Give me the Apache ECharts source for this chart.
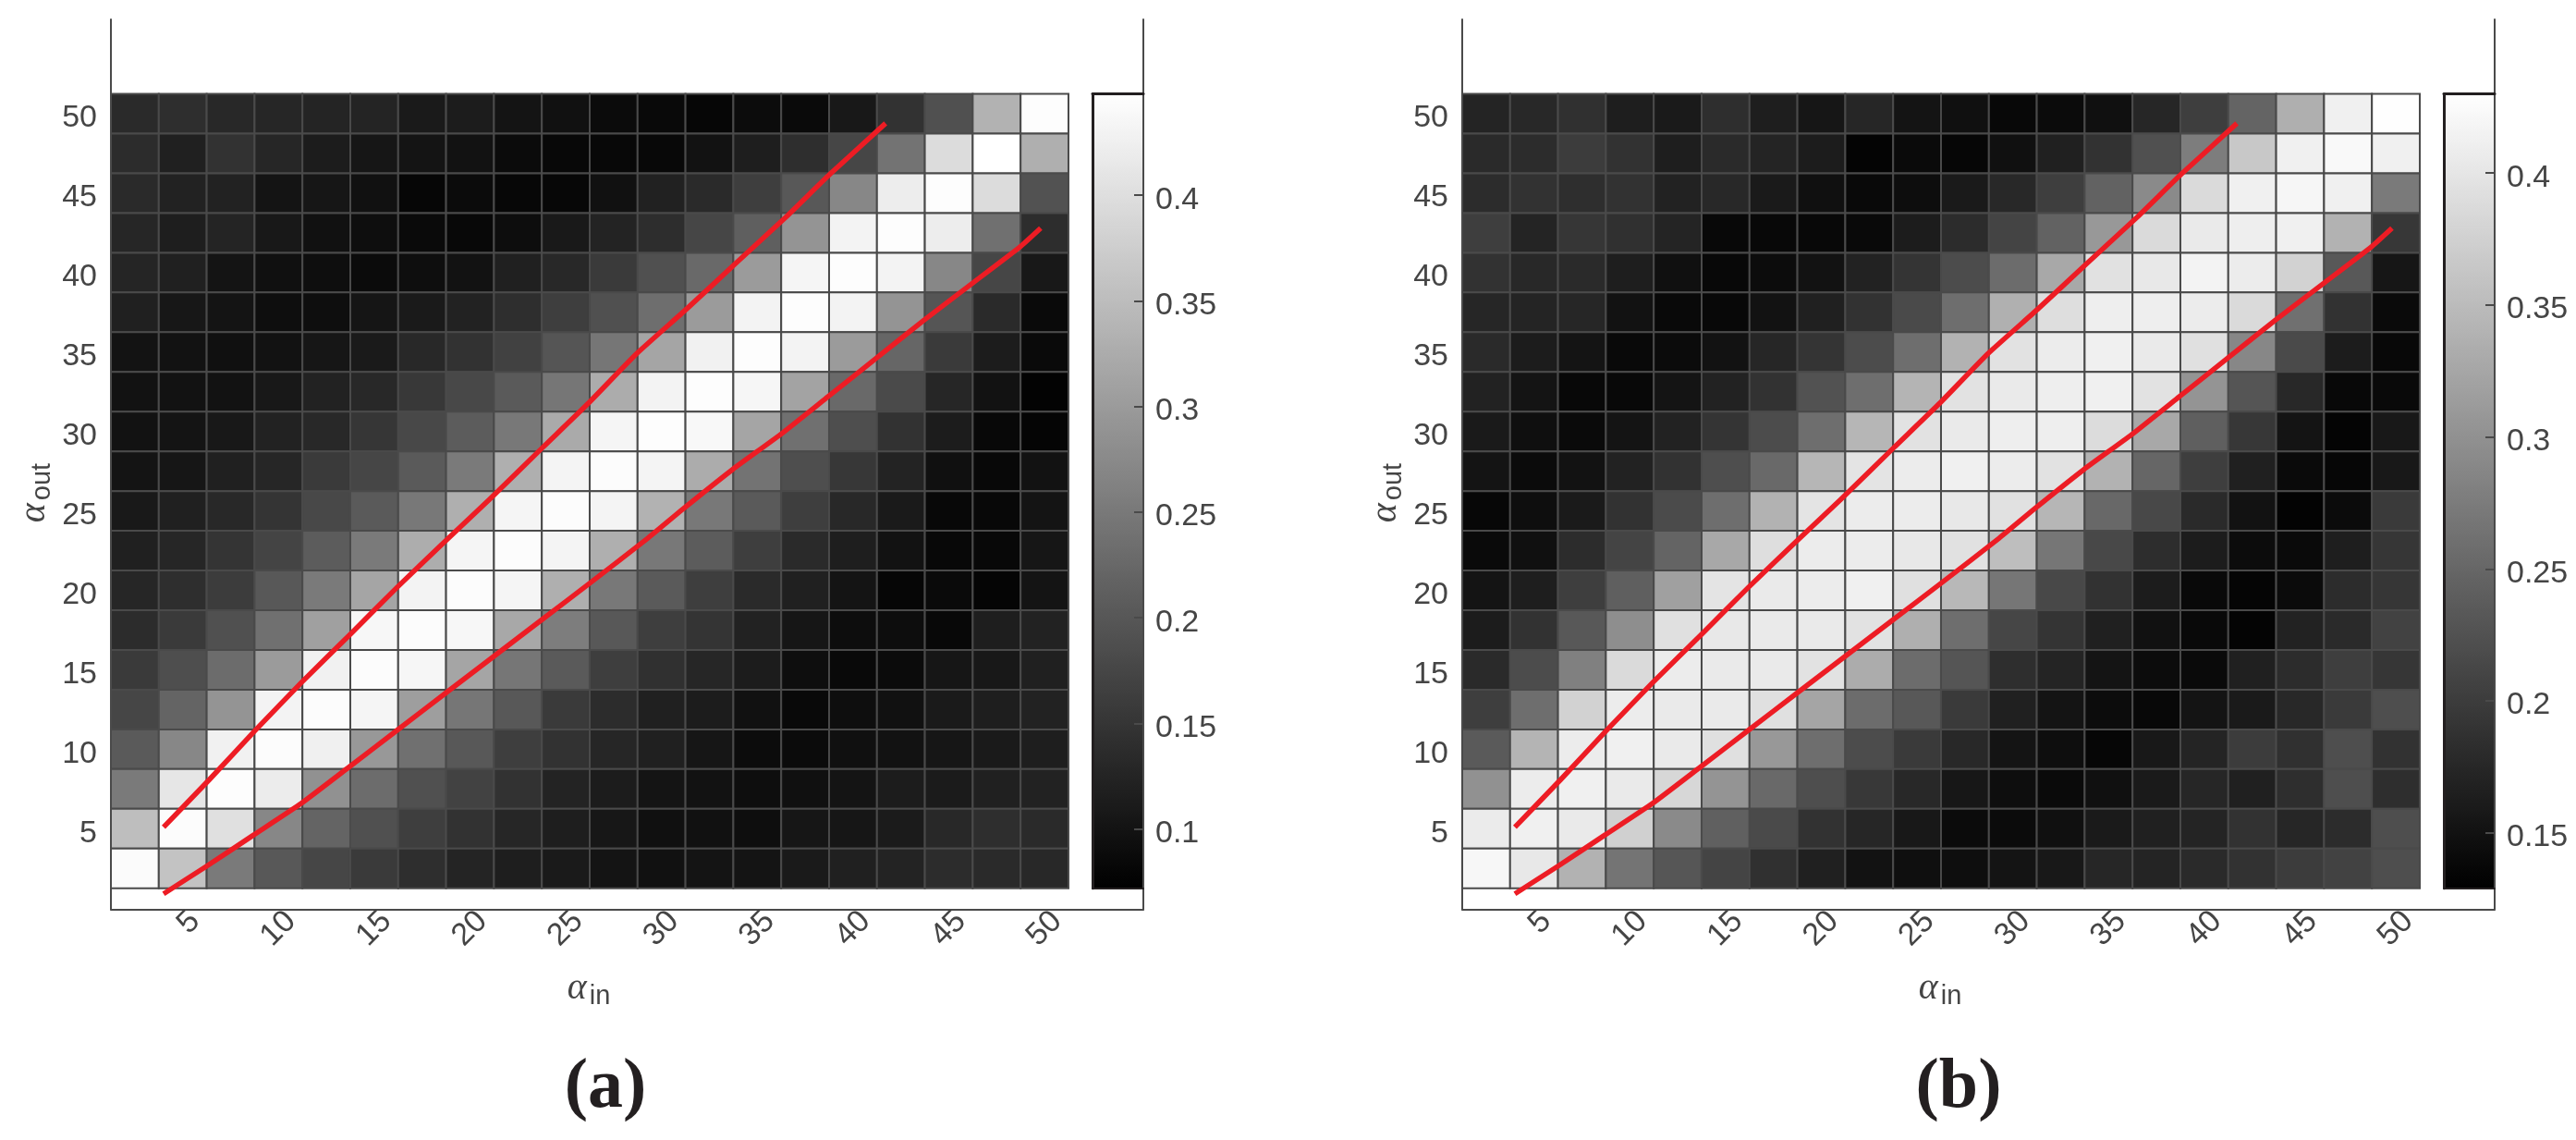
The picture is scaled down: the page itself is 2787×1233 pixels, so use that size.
<!DOCTYPE html>
<html><head><meta charset="utf-8">
<script src="https://cdn.jsdelivr.net/npm/echarts@6/dist/echarts.min.js"></script>
<style>html,body{margin:0;padding:0;background:#fff}#c{width:2787px;height:1233px}</style>
</head><body><div id="c"></div>
<script>
const alphaIn=[2.5,5,7.5,10,12.5,15,17.5,20,22.5,25,27.5,30,32.5,35,37.5,40,42.5,45,47.5,50];
const alphaOutTopDown=[50,47.5,45,42.5,40,37.5,35,32.5,30,27.5,25,22.5,20,17.5,15,12.5,10,7.5,5,2.5];
const tickValues=[5,10,15,20,25,30,35,40,45,50];
const colorTicksA=[0.1,0.15,0.2,0.25,0.3,0.35,0.4];
const colorTicksB=[0.15,0.2,0.25,0.3,0.35,0.4];
const rangeA=[0.072,0.448];
const rangeB=[0.129,0.430];
const valuesA=[
[.134,.140,.131,.128,.125,.125,.110,.113,.101,.097,.088,.085,.081,.090,.087,.107,.146,.190,.335,.445],
[.137,.119,.146,.128,.113,.104,.101,.099,.088,.084,.084,.084,.099,.116,.140,.175,.242,.396,.448,.330],
[.134,.122,.122,.101,.104,.097,.081,.088,.082,.082,.097,.121,.134,.163,.202,.271,.422,.445,.396,.193],
[.128,.116,.125,.107,.097,.093,.087,.084,.091,.109,.124,.138,.175,.212,.290,.430,.445,.422,.237,.138],
[.127,.119,.101,.096,.093,.088,.093,.099,.119,.131,.158,.190,.227,.301,.433,.445,.430,.271,.175,.107],
[.119,.106,.101,.093,.093,.103,.110,.122,.140,.163,.190,.234,.301,.430,.445,.430,.290,.197,.134,.087],
[.100,.099,.096,.099,.104,.110,.131,.146,.168,.197,.246,.315,.427,.445,.430,.301,.222,.158,.113,.087],
[.099,.099,.099,.107,.122,.131,.155,.178,.205,.246,.326,.430,.445,.435,.312,.227,.181,.128,.099,.076],
[.099,.101,.107,.122,.131,.152,.178,.208,.249,.323,.433,.445,.438,.315,.237,.187,.146,.113,.084,.079],
[.101,.104,.119,.128,.158,.175,.205,.252,.330,.432,.444,.432,.326,.242,.187,.153,.124,.096,.084,.099],
[.109,.119,.131,.149,.178,.205,.249,.330,.433,.444,.432,.335,.249,.205,.163,.131,.110,.084,.084,.101],
[.119,.128,.149,.172,.208,.252,.327,.433,.444,.432,.330,.249,.208,.163,.134,.116,.099,.084,.084,.104],
[.128,.140,.160,.202,.252,.315,.430,.444,.433,.330,.249,.205,.163,.134,.119,.101,.081,.087,.079,.101],
[.137,.158,.190,.237,.308,.436,.444,.436,.320,.256,.202,.163,.149,.122,.104,.091,.091,.084,.116,.122],
[.158,.187,.231,.301,.427,.444,.435,.315,.246,.205,.163,.143,.128,.113,.093,.085,.088,.104,.107,.119],
[.175,.220,.290,.430,.444,.433,.305,.246,.202,.158,.137,.119,.113,.097,.085,.093,.097,.110,.116,.122],
[.205,.271,.427,.444,.426,.296,.237,.202,.163,.146,.128,.119,.104,.090,.088,.096,.099,.104,.110,.116],
[.252,.411,.445,.420,.286,.231,.190,.169,.146,.124,.113,.101,.099,.093,.096,.101,.113,.112,.119,.122],
[.352,.444,.402,.271,.220,.190,.163,.146,.128,.116,.106,.096,.097,.093,.104,.104,.112,.131,.140,.134],
[.442,.360,.252,.202,.175,.158,.140,.125,.116,.110,.101,.097,.101,.101,.110,.119,.124,.137,.134,.131]
];
const valuesB=[
[.171,.176,.186,.164,.160,.183,.164,.155,.174,.153,.148,.138,.142,.148,.174,.202,.247,.336,.412,.429],
[.179,.181,.200,.188,.164,.179,.171,.162,.134,.141,.136,.148,.167,.188,.223,.277,.365,.412,.423,.412],
[.181,.188,.183,.188,.169,.176,.160,.148,.140,.144,.160,.176,.202,.245,.292,.386,.412,.419,.412,.273],
[.202,.171,.193,.186,.171,.138,.138,.138,.140,.162,.181,.209,.245,.308,.386,.405,.410,.412,.339,.194],
[.188,.176,.179,.164,.148,.138,.143,.150,.169,.190,.219,.256,.327,.395,.403,.416,.407,.377,.233,.155],
[.174,.171,.174,.150,.140,.138,.150,.167,.188,.216,.259,.337,.391,.410,.410,.407,.386,.261,.188,.141],
[.179,.162,.153,.140,.142,.150,.174,.190,.219,.259,.339,.396,.407,.412,.405,.393,.288,.216,.162,.138],
[.169,.153,.138,.138,.153,.169,.188,.226,.259,.341,.396,.405,.410,.412,.396,.304,.229,.176,.138,.140],
[.160,.147,.141,.153,.169,.190,.219,.259,.344,.396,.405,.410,.410,.389,.327,.241,.194,.153,.134,.157],
[.153,.142,.150,.169,.188,.221,.253,.344,.398,.407,.412,.407,.396,.339,.249,.202,.167,.141,.136,.157],
[.137,.146,.160,.188,.218,.259,.339,.398,.407,.407,.403,.395,.344,.252,.214,.179,.150,.133,.142,.197],
[.141,.148,.181,.209,.247,.327,.391,.407,.407,.403,.395,.353,.268,.214,.182,.162,.143,.141,.164,.193],
[.153,.164,.202,.241,.318,.398,.405,.407,.412,.393,.346,.268,.214,.188,.162,.140,.135,.142,.181,.193],
[.162,.188,.233,.297,.393,.403,.405,.405,.396,.336,.259,.212,.190,.167,.149,.140,.134,.169,.179,.207],
[.179,.219,.280,.386,.407,.405,.405,.396,.332,.256,.229,.183,.171,.153,.143,.141,.167,.181,.202,.193],
[.202,.259,.377,.407,.405,.405,.393,.324,.256,.233,.197,.167,.153,.143,.138,.153,.160,.176,.197,.221],
[.235,.341,.407,.412,.405,.393,.308,.259,.219,.197,.176,.153,.146,.136,.157,.171,.200,.186,.221,.188],
[.300,.407,.412,.405,.383,.304,.253,.221,.195,.176,.156,.146,.141,.148,.160,.174,.167,.183,.221,.183],
[.406,.412,.405,.374,.292,.242,.216,.188,.174,.157,.142,.142,.148,.160,.167,.171,.188,.174,.181,.221],
[.420,.403,.339,.266,.230,.209,.186,.167,.150,.147,.146,.153,.157,.174,.171,.179,.188,.200,.207,.221]
];
const upperLine=[[4,5.1],[6.4,8.1],[8.8,11.2],[11.2,14.2],[13.8,17.3],[16.2,20.2],[18.8,23.2],[21,25.7],[23.8,29],[26.2,31.8],[28.7,34.9],[31.3,37.7],[33.8,40.5],[36.5,43.5],[38.8,46.2],[41.7,49.4]];
const lowerLine=[[4,0.9],[6.2,2.6],[8.7,4.6],[11.2,6.6],[13.6,8.8],[16.2,11.2],[18.8,13.6],[21.3,15.9],[23.8,18.2],[26.2,20.4],[29.3,23.3],[31.1,25.1],[33.7,27.6],[36.2,29.8],[38.7,32.2],[41.2,34.6],[43.7,37],[46.2,39.3],[48.7,41.6],[49.8,42.8]];

const SANS='"Liberation Sans",Arial,sans-serif', SERIF='"Liberation Serif","Times New Roman",serif';
const AXC='#4a4a4a', TXT='#454545', DARK='#231f20', RED='#ed1c24';
const chart=echarts.init(document.getElementById('c'),null,{renderer:'canvas'});
const grid=[],xAxis=[],yAxis=[],series=[],visualMap=[],graphic=[];

function axisLabel(size,extra){return Object.assign({color:TXT,fontFamily:SANS,fontSize:size},extra);}
const shiftedText={t:{color:TXT,fontFamily:SANS,fontSize:34,padding:[10,0,0,0]}};
function panel(off,values,range,cticks,caption,capX){
  const g=grid.length;
  grid.push({left:120+off,width:1117,top:21,height:962.5,containLabel:false});
  grid.push({left:1182+off,width:55,top:101.5,height:859.2,containLabel:false});
  const x0=xAxis.length,y0=yAxis.length;
  xAxis.push({gridIndex:g,type:'value',min:1.25,max:55.16,position:'bottom',
    axisLine:{onZero:false,lineStyle:{color:AXC,width:2}},axisTick:{show:false},splitLine:{show:false},
    axisLabel:axisLabel(34,{rotate:45,align:'center',verticalAlign:'middle',margin:21,customValues:tickValues,hideOverlap:false,
      formatter:v=>(+v<10?'\u2007':'')+String(+v)})});
  xAxis.push({gridIndex:g+1,type:'value',min:0,max:1,position:'top',axisLine:{onZero:false,lineStyle:{color:DARK,width:3}},axisTick:{show:false},axisLabel:{show:false},splitLine:{show:false},z:10});
  xAxis.push({gridIndex:g+1,type:'value',min:0,max:1,position:'bottom',axisLine:{onZero:false,lineStyle:{color:DARK,width:2}},axisTick:{show:false},axisLabel:{show:false},splitLine:{show:false},z:10});
  yAxis.push({gridIndex:g,type:'value',min:-0.077,max:55.94,position:'left',
    axisLine:{onZero:false,lineStyle:{color:AXC,width:2}},axisTick:{show:false},splitLine:{show:false},
    axisLabel:axisLabel(34,{margin:15,customValues:tickValues,hideOverlap:false,rich:shiftedText,formatter:v=>'{t|'+(+v)+'}'})});
  yAxis.push({gridIndex:g,type:'value',min:-0.077,max:55.94,position:'right',
    axisLine:{onZero:false,lineStyle:{color:AXC,width:2}},axisTick:{show:false},splitLine:{show:false},axisLabel:{show:false}});
  yAxis.push({gridIndex:g+1,type:'value',min:range[0],max:range[1],position:'left',axisLine:{onZero:false,lineStyle:{color:DARK,width:3}},axisTick:{show:false},axisLabel:{show:false},splitLine:{show:false},z:10});
  yAxis.push({gridIndex:g+1,type:'value',min:range[0],max:range[1],position:'right',
    axisLine:{onZero:false,lineStyle:{color:AXC,width:2}},splitLine:{show:false},z:10,
    axisTick:{show:true,inside:true,length:10,lineStyle:{color:AXC,width:2},customValues:cticks},
    axisLabel:axisLabel(34,{margin:13,customValues:cticks,hideOverlap:false,rich:shiftedText,formatter:v=>'{t|'+(+(+v).toFixed(2))+'}'})});
  const cells=[];
  values.forEach((row,r)=>row.forEach((v,c)=>cells.push([alphaIn[c],alphaOutTopDown[r],v])));
  const si=series.length;
  series.push({type:'custom',xAxisIndex:x0,yAxisIndex:y0,data:cells,encode:{x:0,y:1},silent:true,animation:false,z:2,clip:false,
    renderItem(params,api){
      const x=api.value(0),y=api.value(1);
      const a=api.coord([x-1.25,y+1.25]),b=api.coord([x+1.25,y-1.25]);
      return {type:'rect',shape:{x:a[0],y:a[1],width:b[0]-a[0],height:b[1]-a[1]},
        style:{fill:api.visual('color'),stroke:AXC,lineWidth:2}};
    }});
  [upperLine,lowerLine].forEach(d=>series.push({type:'line',xAxisIndex:x0,yAxisIndex:y0,data:d,showSymbol:false,symbol:'none',clip:false,silent:true,animation:false,z:5,smooth:0.15,
    lineStyle:{color:RED,width:5.5,cap:'butt',join:'round'}}));
  series.push({type:'custom',xAxisIndex:x0+1,yAxisIndex:y0+2,data:[],renderItem(){return null;},silent:true});
  visualMap.push({type:'continuous',seriesIndex:si,dimension:2,min:range[0],max:range[1],show:true,calculable:false,showLabel:false,text:null,
    left:1182+off,top:101.5,itemWidth:55,itemHeight:859.2,padding:0,z:1,inRange:{color:['#000000','#ffffff']},hoverLink:false});
  graphic.push({type:'text',x:637+off,y:1069,silent:true,style:{text:'{a|α}{s|in}',align:'center',verticalAlign:'middle',
    rich:{a:{fontFamily:SERIF,fontStyle:'italic',fontSize:40,fill:TXT},s:{fontFamily:SANS,fontSize:29,fill:TXT,padding:[18,0,0,3],verticalAlign:'bottom'}}}});
  graphic.push({type:'text',x:37+off,y:533,rotation:Math.PI/2,silent:true,style:{text:'{a|α}{s|out}',align:'center',verticalAlign:'middle',
    rich:{a:{fontFamily:SERIF,fontStyle:'italic',fontSize:40,fill:TXT},s:{fontFamily:SANS,fontSize:29,fill:TXT,padding:[18,0,0,3],verticalAlign:'bottom'}}}});
  graphic.push({type:'text',x:capX,y:1177,silent:true,style:{text:caption,font:'bold 76px '+SERIF,fill:DARK,align:'center',verticalAlign:'middle'}});
}
panel(0,valuesA,rangeA,colorTicksA,'(a)',655);
panel(1462,valuesB,rangeB,colorTicksB,'(b)',2119);
chart.setOption({backgroundColor:'#ffffff',animation:false,grid,xAxis,yAxis,series,visualMap,graphic:{elements:graphic},tooltip:{show:false}});
</script></body></html>
